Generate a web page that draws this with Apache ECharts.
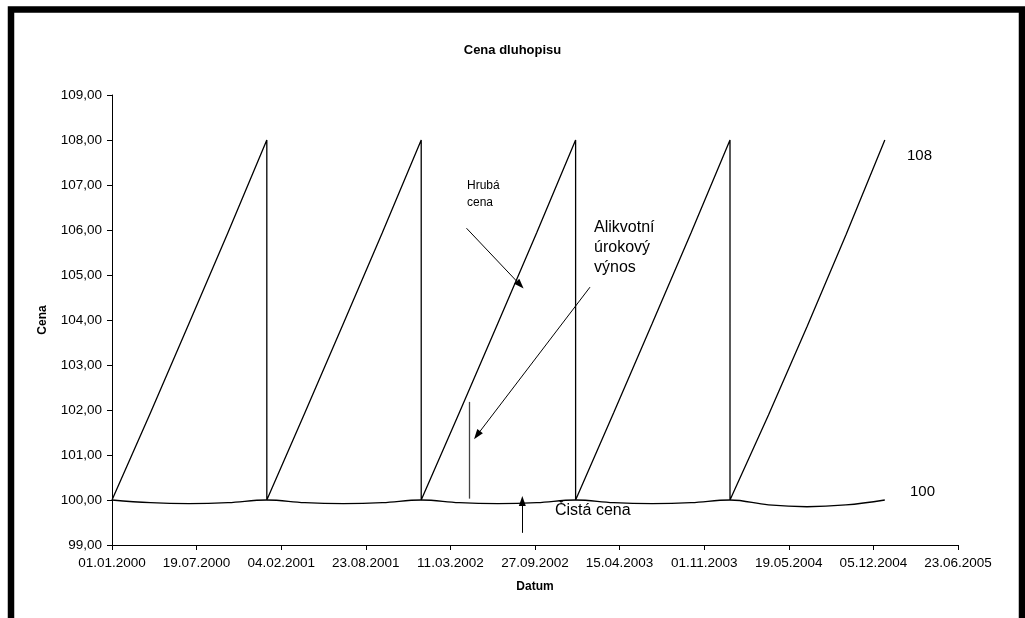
<!DOCTYPE html>
<html>
<head>
<meta charset="utf-8">
<script src="https://cdn.jsdelivr.net/npm/echarts@6/dist/echarts.min.js"></script>
<style>html,body{margin:0;padding:0;background:#fff}#c{width:1025px;height:618px}</style>
</head>
<body>
<div id="c"></div>
<script>
// ---- data ----
const cleanDates = ['01.01.2000','01.04.2000','01.07.2000','01.10.2000',
  '01.01.2001','01.04.2001','01.07.2001','01.10.2001',
  '01.01.2002','01.04.2002','01.07.2002','01.10.2002',
  '01.01.2003','01.04.2003','01.07.2003','01.10.2003',
  '01.01.2004','01.04.2004','01.07.2004','01.10.2004','01.01.2005'];
const cleanValues = [100,99.94,99.92,99.94, 100,99.94,99.92,99.94, 100,99.94,99.92,99.94,
  100,99.94,99.92,99.94, 100,99.89,99.85,99.89, 100];
const dirtyDates = ['01.01.2000','01.04.2000','01.07.2000','01.10.2000','01.01.2001',
  '01.01.2001','01.04.2001','01.07.2001','01.10.2001','01.01.2002',
  '01.01.2002','01.04.2002','01.07.2002','01.10.2002','01.01.2003',
  '01.01.2003','01.04.2003','01.07.2003','01.10.2003','01.01.2004',
  '01.01.2004','01.04.2004','01.07.2004','01.10.2004','01.01.2005'];
const dirtyValues = [100,101.94,103.92,105.94,108, 100,101.94,103.92,105.94,108,
  100,101.94,103.92,105.94,108, 100,101.94,103.92,105.94,108,
  100,101.89,103.85,105.89,108];
const xStart = '01.01.2000';
const xTickDays = 200;
const xMaxDays = 2000;
const yMin = 99, yMax = 109;

// annotation geometry (date, value) pairs
const arrowHruba = [['18.04.2002',106.04],['23.08.2002',104.78]];
const arrowAlik = [['04.02.2003',104.73],['13.05.2002',101.44]];
const accruedLine = [['25.04.2002',102.18],['25.04.2002',100.03]];
const arrowCista = [['28.08.2002',99.27],['28.08.2002',99.98]];

// ---- helpers ----
function parseD(s){const p=s.split('.');return Date.UTC(+p[2],+p[1]-1,+p[0]);}
const base = parseD(xStart);
function dayOf(s){return Math.round((parseD(s)-base)/86400000);}
function fmtDay(d){const t=new Date(base+d*86400000);
  const dd=String(t.getUTCDate()).padStart(2,'0'),mm=String(t.getUTCMonth()+1).padStart(2,'0');
  return dd+'.'+mm+'.'+t.getUTCFullYear();}
function seg(pair,arrow){return [{coord:[dayOf(pair[0][0]),pair[0][1]],symbol:'none'},
  {coord:[dayOf(pair[1][0]),pair[1][1]],symbol:arrow?'triangle':'none',symbolSize:arrow?[7,10]:0}];}

const FONT = '"Liberation Sans", Arial, sans-serif';
const chart = echarts.init(document.getElementById('c'));
chart.setOption({
  animation:false,
  backgroundColor:'#fff',
  title:{text:'Cena dluhopisu',left:'center',top:39,
    textStyle:{fontFamily:FONT,fontSize:13,fontWeight:'bold',color:'#000'}},
  grid:{left:112,right:67,top:95,bottom:73,containLabel:false},
  xAxis:{type:'value',min:0,max:xMaxDays,interval:xTickDays,
    name:'Datum',nameLocation:'middle',nameGap:36,
    nameTextStyle:{fontFamily:FONT,fontSize:12,fontWeight:'bold',color:'#000'},
    axisLine:{lineStyle:{color:'#000',width:1}},
    axisTick:{length:5,lineStyle:{color:'#000'}},
    axisLabel:{fontFamily:FONT,fontSize:13.5,color:'#000',margin:11,formatter:v=>fmtDay(v)},
    splitLine:{show:false}},
  yAxis:{type:'value',min:yMin,max:yMax,interval:1,
    name:'Cena',nameLocation:'middle',nameGap:63,nameRotate:90,
    nameTextStyle:{fontFamily:FONT,fontSize:12,fontWeight:'bold',color:'#000'},
    axisLine:{show:true,lineStyle:{color:'#000',width:1}},
    axisTick:{show:true,length:5,lineStyle:{color:'#000'}},
    axisLabel:{fontFamily:FONT,fontSize:13.5,color:'#000',margin:10,
      formatter:v=>v.toFixed(2).replace('.',',')},
    splitLine:{show:false}},
  series:[
    {type:'line',name:'Hrubá cena',data:dirtyDates.map((d,i)=>[dayOf(d),dirtyValues[i]]),
     showSymbol:false,lineStyle:{color:'#000',width:1.3},z:3},
    {type:'line',name:'Čistá cena',data:cleanDates.map((d,i)=>[dayOf(d),cleanValues[i]]),
     showSymbol:false,smooth:0.4,lineStyle:{color:'#000',width:1.3},z:3},
    {type:'line',data:[],silent:true,
     markLine:{silent:true,animation:false,label:{show:false},
       lineStyle:{color:'#000',width:1,type:'solid'},
       data:[seg(arrowHruba,true),seg(arrowAlik,true),seg(arrowCista,true)]}},
    {type:'line',data:[],silent:true,
     markLine:{silent:true,animation:false,label:{show:false},
       lineStyle:{color:'#444',width:1.3,type:'solid'},
       data:[seg(accruedLine,false)]}}
  ],
  graphic:[
    {type:'rect',shape:{x:11,y:9.5,width:1011,height:800},
     style:{fill:'none',stroke:'#000',lineWidth:6.5},silent:true},
    {type:'text',left:467,top:177,style:{text:'Hrubá\ncena',font:'12px '+FONT,fill:'#000',lineHeight:17}},
    {type:'text',left:594,top:218,style:{text:'Alikvotní\núrokový\nvýnos',font:'16px '+FONT,fill:'#000',lineHeight:20}},
    {type:'text',left:555,top:503,style:{text:'Čistá cena',font:'16px '+FONT,fill:'#000'}},
    {type:'text',left:907,top:148,style:{text:'108',font:'15px '+FONT,fill:'#000'}},
    {type:'text',left:910,top:484,style:{text:'100',font:'15px '+FONT,fill:'#000'}}
  ]
});
</script>
</body>
</html>
